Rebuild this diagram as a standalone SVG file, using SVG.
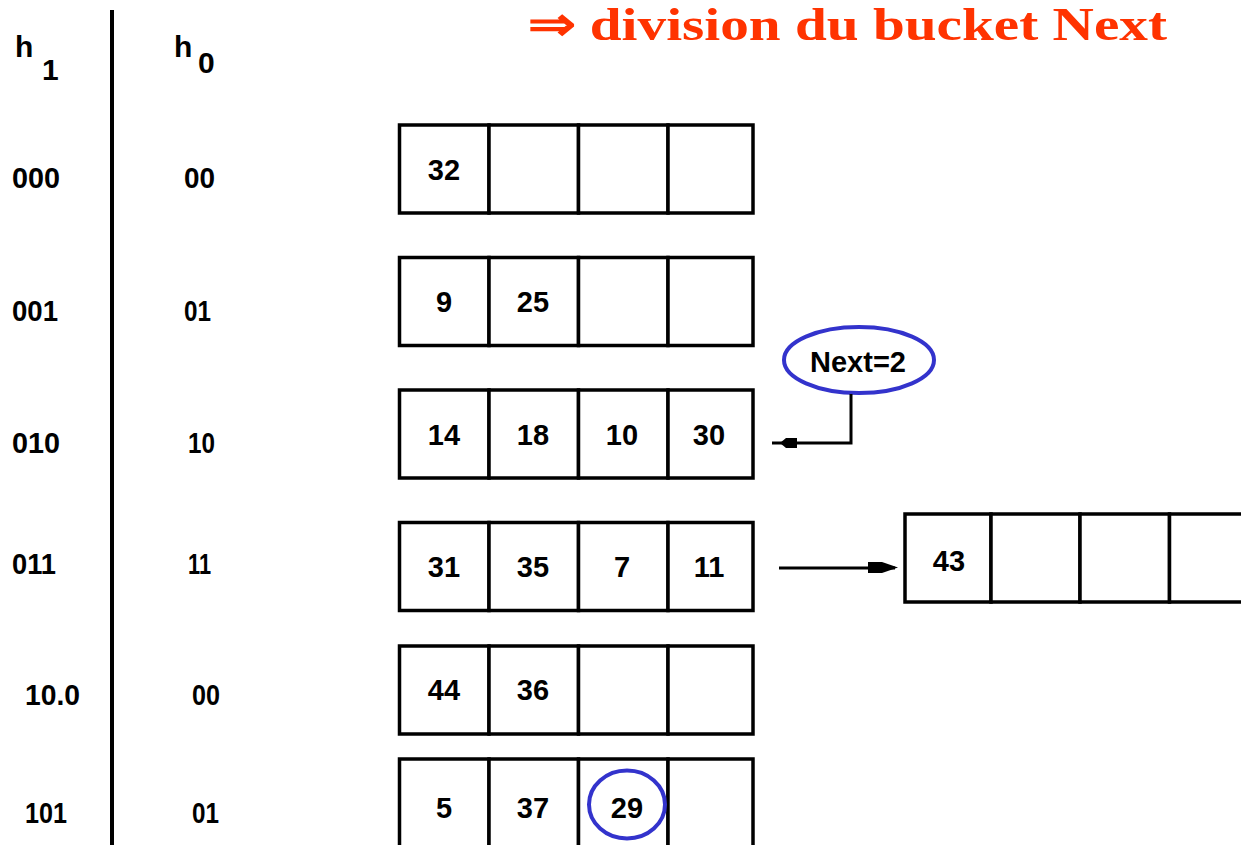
<svg xmlns="http://www.w3.org/2000/svg" width="1241" height="845" viewBox="0 0 1241 845">
<style>
.cell{fill:#fff;stroke:#000;stroke-width:3.5}
.num{font-family:"Liberation Sans",Arial,sans-serif;font-size:29px;font-weight:bold;fill:#000;text-anchor:middle}
.lbl{font-family:"Liberation Sans",Arial,sans-serif;font-size:30px;font-weight:bold;fill:#000}
.conn{fill:none;stroke:#000;stroke-width:3}
.hl{fill:none;stroke:#3333cc;stroke-width:4}
.title{font-family:"Liberation Serif","Times New Roman",serif;font-weight:bold;font-size:47px;fill:#ff3300}
</style>
<rect width="1241" height="845" fill="#fff"/>
<text class="title" x="528" y="40" textLength="639" lengthAdjust="spacingAndGlyphs">⇒ division du bucket Next</text>
<g id="header">
<text class="lbl" x="15" y="57" font-size="34">h</text><text class="lbl" x="42" y="80" font-size="26">1</text>
<text class="lbl" x="174" y="57" font-size="34">h</text><text class="lbl" x="198" y="73" font-size="26">0</text>
<line x1="112" y1="10" x2="112" y2="845" stroke="#000" stroke-width="4"/>
</g>
<g id="labels">
<text class="lbl" x="12" y="188" textLength="48" lengthAdjust="spacingAndGlyphs">000</text>
<text class="lbl" x="184" y="188" textLength="31" lengthAdjust="spacingAndGlyphs">00</text>
<text class="lbl" x="12" y="321" textLength="46" lengthAdjust="spacingAndGlyphs">001</text>
<text class="lbl" x="184" y="321" textLength="27" lengthAdjust="spacingAndGlyphs">01</text>
<text class="lbl" x="12" y="453" textLength="48" lengthAdjust="spacingAndGlyphs">010</text>
<text class="lbl" x="188" y="453" textLength="27" lengthAdjust="spacingAndGlyphs">10</text>
<text class="lbl" x="12" y="574" textLength="44" lengthAdjust="spacingAndGlyphs">011</text>
<text class="lbl" x="188" y="574" textLength="23" lengthAdjust="spacingAndGlyphs">11</text>
<text class="lbl" x="25" y="705" textLength="55" lengthAdjust="spacingAndGlyphs">10.0</text>
<text class="lbl" x="192" y="705" textLength="28" lengthAdjust="spacingAndGlyphs">00</text>
<text class="lbl" x="25" y="823" textLength="42" lengthAdjust="spacingAndGlyphs">101</text>
<text class="lbl" x="192" y="823" textLength="27" lengthAdjust="spacingAndGlyphs">01</text>
</g>
<g id="bucket000">
<rect class="cell" x="399.5" y="125" width="89.5" height="88"/><rect class="cell" x="489" y="125" width="89.5" height="88"/><rect class="cell" x="578.5" y="125" width="89.5" height="88"/><rect class="cell" x="668" y="125" width="85" height="88"/>
<text class="num" x="444" y="180">32</text>
</g>
<g id="bucket001">
<rect class="cell" x="399.5" y="257.5" width="89.5" height="88"/><rect class="cell" x="489" y="257.5" width="89.5" height="88"/><rect class="cell" x="578.5" y="257.5" width="89.5" height="88"/><rect class="cell" x="668" y="257.5" width="85" height="88"/>
<text class="num" x="444" y="312">9</text><text class="num" x="533" y="312">25</text>
</g>
<g id="bucket010">
<rect class="cell" x="399.5" y="390" width="89.5" height="88"/><rect class="cell" x="489" y="390" width="89.5" height="88"/><rect class="cell" x="578.5" y="390" width="89.5" height="88"/><rect class="cell" x="668" y="390" width="85" height="88"/>
<text class="num" x="444" y="445">14</text><text class="num" x="533" y="445">18</text><text class="num" x="622" y="445">10</text><text class="num" x="709" y="445">30</text>
</g>
<g id="bucket011">
<rect class="cell" x="399.5" y="522.5" width="89.5" height="88"/><rect class="cell" x="489" y="522.5" width="89.5" height="88"/><rect class="cell" x="578.5" y="522.5" width="89.5" height="88"/><rect class="cell" x="668" y="522.5" width="85" height="88"/>
<text class="num" x="444" y="577">31</text><text class="num" x="533" y="577">35</text><text class="num" x="622" y="577">7</text><text class="num" x="709" y="577">11</text>
</g>
<g id="bucket100">
<rect class="cell" x="399.5" y="646" width="89.5" height="88"/><rect class="cell" x="489" y="646" width="89.5" height="88"/><rect class="cell" x="578.5" y="646" width="89.5" height="88"/><rect class="cell" x="668" y="646" width="85" height="88"/>
<text class="num" x="444" y="700">44</text><text class="num" x="533" y="700">36</text>
</g>
<g id="bucket101">
<rect class="cell" x="399.5" y="759" width="89.5" height="100"/><rect class="cell" x="489" y="759" width="89.5" height="100"/><rect class="cell" x="578.5" y="759" width="89.5" height="100"/><rect class="cell" x="668" y="759" width="85" height="100"/>
<text class="num" x="444" y="818">5</text><text class="num" x="533" y="818">37</text><text class="num" x="627" y="818">29</text>
<ellipse class="hl" cx="627" cy="804.5" rx="38" ry="34"/>
</g>
<g id="overflow">
<rect class="cell" x="905" y="514" width="86" height="88"/><rect class="cell" x="991" y="514" width="89" height="88"/><rect class="cell" x="1080" y="514" width="89.5" height="88"/><rect class="cell" x="1169.5" y="514" width="80" height="88"/>
<text class="num" x="949" y="571">43</text>
</g>
<g id="next">
<ellipse class="hl" cx="859" cy="360" rx="75" ry="33"/>
<text class="num" x="858" y="372" font-size="27">Next=2</text>
</g>
<g id="connectors">
<polyline class="conn" points="851,394 851,443 772,443"/>
<polygon points="780,443 786,438 797,438 797,448 786,448" fill="#000"/>
<line class="conn" x1="779" y1="568" x2="895" y2="568"/>
<polygon points="868,562 882,562 898,567.5 882,573 868,573" fill="#000"/>
</g>
</svg>
